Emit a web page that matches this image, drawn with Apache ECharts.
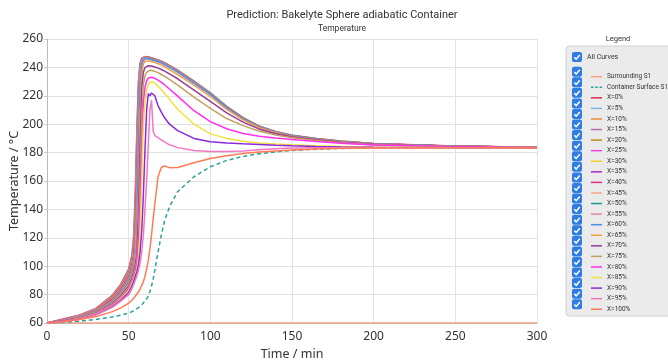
<!DOCTYPE html>
<html><head><meta charset="utf-8">
<script src="https://cdn.jsdelivr.net/npm/echarts@6/dist/echarts.min.js"></script>
<style>html,body{margin:0;padding:0;background:#fff}#c{width:668px;height:360px}</style>
</head><body><div id="c"></div>
<script>
const times = [0,10,20,30,40,45,50,52,53,54,55,56,57,58,59,60,61,62,63,64,65,66,68,70,72,75,80,90,100,110,120,130,140,150,165,180,200,250,300];
const xTicks = [0,50,100,150,200,250,300];
const yTicks = [60,80,100,120,140,160,180,200,220,240,260];

const surroundTimes = [0,300];
const surroundVals = [60,60];
const containerVals = [60,60.5,61.3,62.5,64.3,65.5, 67,68,68.7,69.3,70,70.8,71.7,72.7,74, 75.5,77,79,82,86,91,97, 110,122,132,142,152.5, 163,170,174.5,177.3,179.2,180.5,181.5, 182.4,182.9,183.2,183.5,183.5];

const x0 = [60,62.8,65.6,70.3,79.5,87, 98,108,120,150,195,230,243,246.5,247.4, 247.6,247.6,247.3,247.1,246.8,246.4,246, 245.3,244.4,243.3,241.4,238.1, 230.3,222.1,212.6,204.6,198.6,194.8,192.3, 189.9,188.1,186.4,184.6,183.7];
const x5 = [60,62.7,65.4,70,79,86.3, 97,106.5,117,143,190,228,242.5,246.3,247.3, 247.5,247.5,247.2,247,246.7,246.3,245.9, 245.2,244.3,243.2,241.3,238, 230.2,222,212.5,204.5,198.5,194.7,192.2, 189.8,188,186.3,184.5,183.7];
const x10 = [60,62.6,65.3,69.8,78.6,85.8, 96,105.5,115,138,186,226,242,246.2,247.2, 247.5,247.5,247.2,246.9,246.6,246.2,245.8, 245.1,244.2,243.1,241.2,237.9, 230.1,221.9,212.4,204.4,198.4,194.6,192.1, 189.7,188,186.3,184.5,183.7];
const x15 = [60,62.5,65.2,69.6,78.2,85.3, 95.2,104.5,113.5,134,182,224,241.5,246,247.1, 247.4,247.4,247.1,246.8,246.5,246.1,245.7, 245,244.1,243,241.1,237.8, 230,221.8,212.3,204.3,198.3,194.5,192, 189.7,187.9,186.2,184.5,183.7];
const x20 = [60,62.4,65,69.4,77.8,84.8, 94.5,103.5,112,130,178,222,241,245.8,247, 247.3,247.3,247,246.7,246.4,246,245.6, 244.9,244,242.9,241,237.7, 229.9,221.7,212.2,204.2,198.2,194.5,192, 189.6,187.9,186.2,184.4,183.7];
const x25 = [60,62.3,64.9,69.2,77.4,84.3, 93.8,102.5,110.5,127,174,220,240.5,245.6,246.9, 247.2,247.2,246.9,246.6,246.3,245.9,245.5, 244.8,243.9,242.8,240.9,237.6, 229.8,221.6,212.1,204.1,198.1,194.4,191.9, 189.6,187.8,186.2,184.4,183.7];
const x30 = [60,62.2,64.8,69,77,83.8, 93.2,101.5,109,124,170,218,240,245.4,246.8, 247.1,247.1,246.8,246.5,246.2,245.8,245.4, 244.7,243.8,242.7,240.8,237.5, 229.7,221.5,212,204,198,194.3,191.8, 189.5,187.8,186.1,184.4,183.7];
const x35 = [60,62.1,64.6,68.8,76.6,83.3, 92.5,100.5,107.5,121,165,216,239.5,245.2,246.7, 247,247,246.7,246.4,246.1,245.7,245.3, 244.6,243.7,242.6,240.7,237.4, 229.6,221.4,211.9,203.9,197.9,194.2,191.8, 189.5,187.7,186.1,184.4,183.7];
const x40 = [60,62,64.5,68.6,76.2,82.8, 91.8,99.5,106,118,160,213,239,245,246.6, 246.9,246.9,246.6,246.3,246,245.6,245.2, 244.5,243.6,242.5,240.6,237.3, 229.5,221.3,211.8,203.8,197.8,194.2,191.7, 189.4,187.7,186,184.4,183.7];
const x45 = [60,61.9,64.4,68.4,75.8,82.3, 91.2,98.5,104.5,115,155,210,238.5,244.8,246.5, 246.8,246.8,246.5,246.2,245.9,245.5,245.1, 244.4,243.5,242.4,240.5,237.2, 229.4,221.2,211.7,203.7,197.7,194.1,191.7, 189.4,187.6,186,184.3,183.7];
const x50 = [60,61.8,64.3,68.2,75.4,81.8, 90.5,97.5,103,112,150,207,238,244.6,246.4, 246.9,246.9,246.7,246.4,246.1,245.7,245.3, 244.6,243.7,242.6,240.7,237.4, 229.6,221.5,212,204,198,194.3,191.8, 189.5,187.8,186.1,184.4,183.7];
const x55 = [60,61.7,64.2,68,75,81.3, 89.8,96.5,101.5,109,143,202,236.5,244.2,246.2, 246.7,246.7,246.5,246.2,245.9,245.5,245.1, 244.4,243.5,242.4,240.5,237.2, 229.4,221.3,211.8,203.8,197.8,194.2,191.7, 189.4,187.7,186,184.3,183.7];
const x60 = [60,61.6,64,67.7,74.5,80.5, 88.5,95,99,104,115,182,226,241,245, 246,246.3,246.1,245.8,245.5,245.1,244.7, 244,243,241.8,240,236.7, 229,221,211.5,203.7,198,194.3,191.8, 189.4,187.6,186,184.3,183.6];
const x65 = [60,61.5,63.8,67.4,74,79.8, 87.3,93.5,97.5,103,112,150,205,235,242.5, 244.2,244.6,244.7,244.5,244.2,243.8,243.4, 242.6,241.6,240.4,238.5,235, 227.5,219.5,210.5,203,197.5,194,191.5, 189.2,187.5,185.9,184.2,183.6];
const x70 = [60,61.4,63.6,67.1,73.5,79, 86,92,95.8,100.5,108,135,185,225,236.5, 239.8,240.8,241.2,241.2,241,240.7,240.3, 239.5,238.5,237.4,235.5,232, 224,216,208,201.5,196.5,193.3,191.2, 189,187.3,185.8,184.2,183.6];
const x75 = [60,61.3,63.4,66.8,73,78.3, 85,90.5,94,98,104,120,160,205,228, 234,236.5,237.6,238,237.9,237.6,237.2, 236.3,235,233.7,231.5,227.5, 219,211.2,204,199,195,192.3,190.5, 188.5,187,185.6,184.2,183.6];
const x80 = [60,61.2,63.2,66.5,72.5,77.5, 84,88.5,92,96,102,115,145,185,215, 226,230.5,232.5,233,233,232.7,232.3, 231,229.5,227.8,224.8,219.8, 209.5,201.8,196.8,193.5,191.5,190.2,189.3, 187.8,186.6,185.4,184.1,183.5];
const x85 = [60,61.1,63,66.2,72,76.8, 82.8,87.5,90.5,94,98,106,125,160,200, 216,224,228,229.6,230,229.7,229.2, 226.8,224.2,221.6,217.5,210.5, 200,193.2,190,188,186.8,186,185.5, 184.8,184.3,184,183.6,183.5];
const x90 = [60,61,62.8,65.9,71.5,76, 81.5,86,89,92.5,96,101,110,125,150, 182,210,221.5,220,222,223,220, 213,208.5,204.5,200,195.5, 190,187.7,186.8,186.2,185.7,185.2,184.8, 184.3,184,183.8,183.6,183.5];
const x95 = [60,60.9,62.6,65.6,71,75.2, 80,84.2,87,90,93,97,102,110,122, 140,160,185,210,217,195,192, 190.5,189,187.5,185.5,183.5, 181.5,180.7,180.7,181.2,182,182.7,183.2, 183.5,183.5,183.5,183.5,183.5];
const x100 = [60,61,62.5,64.5,68,70.5, 74,76,77.3,78.7,80,82,84,86.5,89, 93,98,104,112,122,133,144, 163,169.5,170.6,169.4,169.5, 172.8,175.8,177.8,179.3,180.4,181.2,181.9, 182.6,183,183.3,183.5,183.5];

const xNames = ['X=0%','X=5%','X=10%','X=15%','X=20%','X=25%','X=30%','X=35%','X=40%','X=45%','X=50%','X=55%','X=60%','X=65%','X=70%','X=75%','X=80%','X=85%','X=90%','X=95%','X=100%'];
const xValues = [x0,x5,x10,x15,x20,x25,x30,x35,x40,x45,x50,x55,x60,x65,x70,x75,x80,x85,x90,x95,x100];
const xColors = ['#e0284c','#74b6ee','#f08a30','#b86aae','#c48410','#f542e8','#f2cf2a','#a22ec8','#e6287e','#f5a88c','#1f9a92','#e0889a','#4a8ee6','#f5a040','#9a3a9a','#c4a060','#ff30ee','#f2e040','#8a2ad8','#f078c0','#ff7a55'];

const solidIcon = 'path://M0,0H22V3H0Z';
const dashIcon = 'path://M0,0H5V3H0Z M8.5,0H13.5V3H8.5Z M17,0H22V3H17Z';

const series = [];
series.push({name:'Surrounding S1', type:'line', symbol:'none', color:'#f9a080', lineStyle:{width:1.5, color:'#f9a080'},
  data: surroundTimes.map((t,i)=>[t, surroundVals[i]])});
series.push({name:'Container Surface S1', type:'line', symbol:'none', color:'#2aa19a', lineStyle:{width:1.5, type:[4,3], color:'#2aa19a'},
  data: times.map((t,i)=>[t, containerVals[i]])});
xNames.forEach((n,k)=>{
  series.push({name:n, type:'line', symbol:'none', color:xColors[k], lineStyle:{width:1.5, color:xColors[k]},
    data: times.map((t,i)=>[t, xValues[k][i]])});
});

const legendNames = ['Surrounding S1','Container Surface S1'].concat(xNames);
const legendData = legendNames.map((n,i)=>({name:n, icon: i===1 ? dashIcon : solidIcon}));
const rowStart = 71.7, rowStep = 10.57;
const graphics = [
  {type:'rect', shape:{x:566, y:46, width:110, height:270, r:3}, style:{fill:'#ebebeb', stroke:'#d2d2d2', lineWidth:1}, z:0},
  {type:'text', x:618, y:39, style:{text:'Legend', fill:'#333', font:'7.5px Roboto', textAlign:'center', textVerticalAlign:'middle'}},
  {type:'text', x:587, y:57, style:{text:'All Curves', fill:'#333', font:'7px Roboto', textAlign:'left', textVerticalAlign:'middle'}}
];
const rowsY = [57].concat(legendNames.map((n,i)=>rowStart + i*rowStep));
rowsY.forEach(cy=>{
  graphics.push({type:'group', x:572, y:cy-5, children:[
    {type:'rect', shape:{x:0,y:0,width:10,height:10,r:2}, style:{fill:'#2f7ce4'}},
    {type:'polyline', shape:{points:[[2.3,5.2],[4.2,7.2],[7.8,3]]}, style:{stroke:'#fff', lineWidth:1.5, fill:null}}
  ]});
});

const chart = echarts.init(document.getElementById('c'));
chart.setOption({
  animation:false,
  title:{text:'Prediction: Bakelyte Sphere adiabatic Container', subtext:'Temperature', left:337, textAlign:'center', top:5, itemGap:3,
    textStyle:{fontFamily:'Roboto', fontSize:11, fontWeight:'normal', color:'#333'},
    subtextStyle:{fontFamily:'Roboto', fontSize:8.5, color:'#333'}},
  grid:{left:47, right:131, top:39, bottom:37, containLabel:false, outerBoundsMode:'none'},
  xAxis:{type:'value', min:xTicks[0], max:xTicks[xTicks.length-1], interval:50, name:'Time / min', nameLocation:'middle', nameGap:25,
    nameMoveOverlap:false,
    nameTextStyle:{fontFamily:'Noto Sans', fontSize:12.5, color:'#333'},
    axisLine:{show:true, lineStyle:{color:'#bbb'}}, axisTick:{show:false},
    axisLabel:{fontFamily:'Noto Sans', fontSize:12, color:'#333', margin:8},
    splitLine:{show:true, lineStyle:{color:'#e2e2e2'}}},
  yAxis:{type:'value', min:yTicks[0], max:yTicks[yTicks.length-1], interval:20, name:'Temperature / °C', nameLocation:'middle', nameGap:26,
    nameMoveOverlap:false,
    nameTextStyle:{fontFamily:'Noto Sans', fontSize:12.5, color:'#333'},
    axisLine:{show:true, lineStyle:{color:'#bbb'}}, axisTick:{show:true, length:3, lineStyle:{color:'#ccc'}},
    axisLabel:{fontFamily:'Noto Sans', fontSize:12, color:'#333', margin:4},
    splitLine:{show:true, lineStyle:{color:'#e2e2e2'}}},
  legend:{orient:'vertical', left:586, top:rowStart-4.5, itemWidth:11, itemHeight:1.5, itemGap:rowStep-9, selectedMode:false,
    data:legendData, textStyle:{fontFamily:'Roboto', fontSize:6.5, lineHeight:9, color:'#333'}, z:5},
  graphic:graphics,
  series:series
});
</script></body></html>
